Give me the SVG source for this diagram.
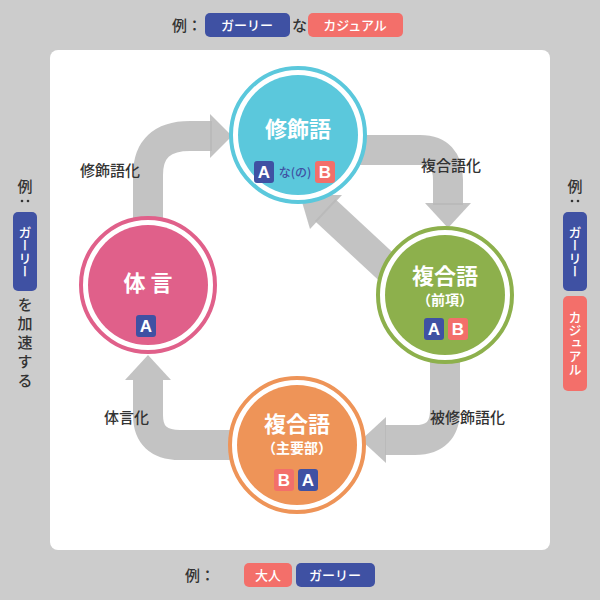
<svg xmlns="http://www.w3.org/2000/svg" width="600" height="600" viewBox="0 0 600 600">
<style>
text{font-family:"Noto Sans CJK JP","Noto Sans",sans-serif;font-weight:500}
.lbl{font-size:15px;fill:#333}
.band{fill:none;stroke:#b8b8b8;stroke-width:30;opacity:.85}
.head{fill:#b8b8b8;opacity:.85}
.ttl{font-size:22px;fill:#fff;text-anchor:middle;font-weight:bold}
.sub{font-size:14px;fill:#fff;text-anchor:middle;font-weight:bold}
.bx{font-size:17px;fill:#fff;text-anchor:middle;font-family:"Liberation Sans",sans-serif;font-weight:bold}
.tag{font-size:13px;fill:#fff;text-anchor:middle}
.vt{font-size:13px;fill:#fff;writing-mode:vertical-rl;text-anchor:middle}
</style>
<rect width="600" height="600" fill="#cccccc"/>
<rect x="50" y="50" width="500" height="500" rx="8" fill="#fff"/>
<g id="examples">
<text x="172" y="31" class="lbl" font-size="14">例：</text>
<rect x="205" y="13" width="85" height="24" rx="5" fill="#3f51a3"/><text x="247" y="30" class="tag">ガーリー</text>
<text x="292" y="31" class="lbl" font-size="14">な</text>
<rect x="308" y="13" width="95" height="24" rx="5" fill="#f36f6a"/><text x="355" y="30" class="tag">カジュアル</text>
<text x="185" y="581" class="lbl" font-size="14">例：</text>
<rect x="244" y="563" width="48" height="24" rx="5" fill="#f36f6a"/><text x="268" y="580" class="tag">大人</text>
<rect x="296" y="563" width="79" height="24" rx="5" fill="#3f51a3"/><text x="335" y="580" class="tag">ガーリー</text>
<text x="25" y="192" class="lbl" font-size="14" text-anchor="middle">例</text>
<circle cx="22" cy="201" r="1.3" fill="#333"/><circle cx="28" cy="201" r="1.3" fill="#333"/>
<rect x="13" y="212" width="24" height="79" rx="5" fill="#3f51a3"/>
<text x="25" y="252" class="vt">ガーリー</text>
<text x="25" y="344" class="lbl" font-size="14" text-anchor="middle" letter-spacing="4" style="writing-mode:vertical-rl">を加速する</text>
<text x="575" y="192" class="lbl" font-size="14" text-anchor="middle">例</text>
<circle cx="572" cy="201" r="1.3" fill="#333"/><circle cx="578" cy="201" r="1.3" fill="#333"/>
<rect x="563" y="212" width="24" height="79" rx="5" fill="#3f51a3"/>
<text x="575" y="252" class="vt">ガーリー</text>
<rect x="563" y="296" width="24" height="95" rx="5" fill="#f36f6a"/>
<text x="575" y="343" class="vt">カジュアル</text>
</g>
<g id="connectors">
<path class="band" d="M148 225 V175 Q148 136 190 136 H212"/><polygon class="head" points="210,114 232,136 210,158"/>
<path class="band" d="M360 150 H420 Q448 150 448 180 V205"/><polygon class="head" points="425,203 471,203 448,228"/>
<path class="band" d="M445 355 V410 Q445 440 415 440 H385"/><polygon class="head" points="386,417 386,463 361,440"/>
<path class="band" d="M235 445 H180 Q148 445 148 415 V380"/><polygon class="head" points="125,380 171,380 148,355"/>
<path class="band" d="M395 275 L325 210"/><polygon class="head" points="342,195 310,229 300,195"/>
<text x="80" y="176" class="lbl">修飾語化</text>
<text x="421" y="171" class="lbl">複合語化</text>
<text x="430" y="423" class="lbl">被修飾語化</text>
<text x="104" y="423" class="lbl">体言化</text>
</g>
<g id="n-top">
<circle cx="298" cy="135" r="67" fill="#fff" stroke="#5bc8dc" stroke-width="4"/><circle cx="298" cy="135" r="60" fill="#5bc8dc"/>
<text x="298" y="137" class="ttl">修飾語</text>
<rect x="254" y="161" width="20" height="22" rx="3" fill="#3f51a3"/><text x="264" y="178" class="bx">A</text>
<text x="295" y="177" font-size="12" fill="#3f51a3" text-anchor="middle">な(の)</text>
<rect x="315" y="161" width="20" height="22" rx="3" fill="#f36f6a"/><text x="325" y="178" class="bx">B</text>
</g>
<g id="n-right">
<circle cx="445" cy="295" r="67" fill="#fff" stroke="#8db04c" stroke-width="4"/><circle cx="445" cy="295" r="60" fill="#8db04c"/>
<text x="445" y="284" class="ttl">複合語</text>
<text x="445" y="305" class="sub">（前項）</text>
<rect x="424" y="318" width="20" height="22" rx="3" fill="#3f51a3"/><text x="434" y="335" class="bx">A</text>
<rect x="448" y="318" width="20" height="22" rx="3" fill="#f36f6a"/><text x="458" y="335" class="bx">B</text>
</g>
<g id="n-bottom">
<circle cx="297" cy="445" r="67" fill="#fff" stroke="#ee9458" stroke-width="4"/><circle cx="297" cy="445" r="60" fill="#ee9458"/>
<text x="297" y="432" class="ttl">複合語</text>
<text x="297" y="453" class="sub">（主要部）</text>
<rect x="274" y="469" width="20" height="22" rx="3" fill="#f36f6a"/><text x="284" y="486" class="bx">B</text>
<rect x="298" y="469" width="20" height="22" rx="3" fill="#3f51a3"/><text x="308" y="486" class="bx">A</text>
</g>
<g id="n-left">
<circle cx="148" cy="285" r="67" fill="#fff" stroke="#e0608a" stroke-width="4"/><circle cx="148" cy="285" r="60" fill="#e0608a"/>
<text x="148" y="291" class="ttl" font-size="26">体 言</text>
<rect x="136" y="315" width="20" height="22" rx="3" fill="#3f51a3"/><text x="146" y="332" class="bx">A</text>
</g>
</svg>
